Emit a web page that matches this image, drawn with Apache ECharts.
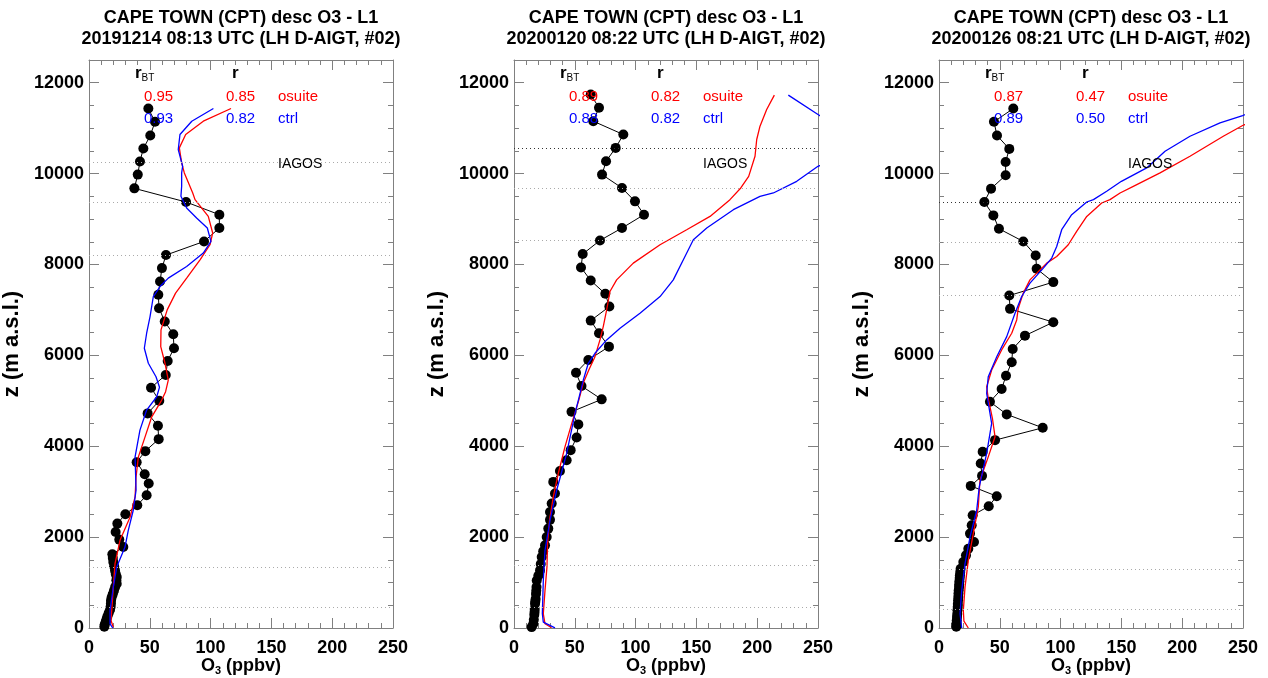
<!DOCTYPE html>
<html><head><meta charset="utf-8">
<script src="https://cdn.jsdelivr.net/npm/echarts@6/dist/echarts.min.js"></script>
<style>html,body{margin:0;padding:0;background:#fff}#c{width:1268px;height:678px}</style>
</head><body><div id="c"></div>
<script>
// ---------------- DATA ----------------
const titleLine1 = ['CAPE TOWN (CPT) desc O3 - L1','CAPE TOWN (CPT) desc O3 - L1','CAPE TOWN (CPT) desc O3 - L1'];
const titleLine2 = ['20191214 08:13 UTC (LH D-AIGT, #02)','20200120 08:22 UTC (LH D-AIGT, #02)','20200126 08:21 UTC (LH D-AIGT, #02)'];
const rbtOsuite = ['0.95','0.89','0.87'];
const rbtCtrl   = ['0.93','0.88','0.89'];
const rOsuite   = ['0.85','0.82','0.47'];
const rCtrl     = ['0.82','0.82','0.50'];

// dotted reference levels (m)
const p1_levels = [10257, 9375, 8207, 1327, 459];
const p2_levels = [10566, 9684, 8529, 1378, 459];
const p3_levels = [9375, 8485, 7316, 1290, 423];
const darkLevel = [null, 10566, 9375];

// [O3 ppbv, z m]
const p1_iagos = [[48.8,11433],[54.3,11140],[50.4,10838],[44.7,10551],[41.9,10268],[40.1,9978],[37.3,9675],[79.8,9375],[107.2,9096],[107.2,8802],[94.6,8507],[63.3,8207],[60.0,7920],[58.4,7625],[57.0,7332],[57.6,7038],[62.3,6744],[69.3,6465],[69.9,6156],[64.7,5876],[63.1,5568],[51.0,5288],[57.8,5001],[48.2,4723],[56.7,4450],[57.3,4156],[46.3,3892],[39.2,3649],[45.8,3385],[49.1,3180],[47.4,2922],[39.7,2701],[29.9,2503],[23.3,2297],[21.9,2113],[24.9,1945],[28.2,1782],[19.2,1621],[19.6,1540],[20.0,1451],[20.7,1360],[21.4,1268],[22.0,1190],[22.8,1120],[22.5,1050],[22.8,975],[21.5,900],[20.5,820],[19.5,740],[18.6,670],[18.1,606],[18.0,540],[17.8,470],[17.3,400],[16.2,330],[15.2,260],[14.5,200],[13.8,140],[13.0,80],[12.6,30]];
const p1_osuite = [[116.8,11433],[94.0,11153],[79.5,10860],[74.3,10566],[76.2,10235],[78.4,10015],[85.3,9574],[87.2,9427],[98.1,9058],[101.7,8692],[99.5,8434],[91.3,8103],[80.3,7700],[71.2,7369],[64.3,7001],[59.2,6560],[59.0,6192],[62.5,5826],[65.2,5457],[63.0,5200],[59.8,5016],[51.6,4648],[46.1,4207],[40.6,3766],[38.7,3325],[37.9,2884],[33.8,2443],[25.5,1929],[21.4,1416],[20.0,900],[18.7,386],[18.1,165],[20.0,18]];
const p1_ctrl = [[102.3,11433],[84.5,11153],[74.8,10860],[73.4,10529],[77.0,10161],[76.2,10015],[76.2,9720],[75.6,9500],[80.3,9243],[88.5,9023],[97.3,8802],[100.3,8507],[94.0,8251],[80.3,7956],[65.2,7700],[58.4,7515],[52.9,7295],[50.2,6853],[47.4,6487],[45.5,6156],[48.8,5826],[55.1,5530],[58.0,5300],[55.7,5089],[47.4,4796],[41.9,4355],[37.9,3766],[38.7,3032],[36.4,2591],[32.3,2150],[29.6,1782],[22.8,1341],[20.0,900],[17.3,386],[17.3,92],[19.5,0]];

const p2_iagos = [[63.1,11741],[69.9,11448],[65.2,11153],[89.9,10860],[83.6,10566],[75.7,10271],[72.4,9978],[88.8,9684],[99.5,9389],[106.9,9096],[88.8,8802],[70.7,8529],[56.5,8229],[55.1,7934],[63.1,7647],[75.1,7354],[78.4,7074],[63.1,6765],[69.9,6487],[78.1,6192],[61.1,5898],[51.0,5618],[55.5,5325],[72.1,5032],[47.3,4759],[52.9,4481],[51.5,4194],[46.6,3914],[43.3,3693],[37.8,3457],[32.3,3215],[33.7,2959],[31.0,2739],[29.6,2553],[29.6,2380],[28.2,2187],[26.9,2002],[25.5,1819],[24.0,1690],[22.8,1561],[22.0,1410],[21.4,1268],[20.0,1150],[18.7,1047],[18.5,900],[18.3,820],[18.1,750],[17.8,640],[17.5,580],[17.3,534],[17.0,420],[16.9,350],[16.7,290],[16.3,180],[15.9,92],[14.5,20]];
const p2_osuite = [[214.1,11727],[207.8,11411],[202.3,11043],[199.6,10750],[198.2,10382],[193.0,9940],[186.5,9684],[177.6,9427],[161.2,9058],[142.0,8765],[120.1,8434],[98.1,8030],[84.4,7662],[78.9,7405],[76.2,7001],[73.4,6633],[70.7,6340],[66.6,5971],[61.5,5678],[56.9,5385],[53.3,5016],[47.5,4502],[41.9,3987],[36.4,3400],[32.3,2884],[29.2,2370],[27.6,1857],[27.1,1341],[25.5,827],[24.1,313],[25.5,92],[30.9,4]];
const p2_ctrl = [[225.6,11727],[250.0,11301],[275.0,10900],[285.0,10600],[268.0,10350],[250.0,10161],[232.5,9830],[213.3,9574],[202.3,9500],[180.4,9206],[158.5,8802],[147.5,8544],[140.6,8176],[131.0,7662],[120.1,7294],[103.6,6928],[87.2,6597],[76.2,6340],[66.6,6046],[61.1,5826],[57.0,5457],[53.3,5054],[50.2,4723],[43.3,3841],[35.1,3032],[29.6,2370],[25.5,1709],[24.1,1047],[23.3,313],[24.1,128],[33.7,4]];

const p3_iagos = [[61.1,11433],[45.2,11140],[47.7,10838],[57.8,10544],[54.8,10257],[54.8,9962],[42.8,9669],[37.3,9375],[44.7,9080],[49.3,8787],[69.3,8507],[79.5,8198],[80.3,7905],[94.0,7612],[57.8,7316],[58.4,7023],[94.0,6730],[70.7,6434],[60.6,6141],[59.8,5848],[55.1,5552],[51.5,5259],[41.9,4979],[55.7,4701],[85.3,4406],[46.1,4134],[35.9,3877],[34.3,3621],[35.4,3348],[26.1,3127],[47.5,2900],[40.9,2679],[27.7,2481],[26.9,2260],[25.5,2077],[28.8,1892],[24.1,1746],[22.2,1599],[20.0,1451],[17.8,1305],[17.5,1230],[17.2,1160],[17.0,1100],[16.8,1030],[16.6,960],[16.5,900],[16.2,830],[16.0,760],[15.9,680],[15.7,610],[15.5,530],[15.4,460],[15.2,390],[15.0,310],[14.8,240],[14.6,170],[14.4,100],[14.2,30]];
const p3_osuite = [[262.0,11200],[249.7,11058],[233.8,10822],[206.4,10382],[181.8,10015],[159.8,9720],[148.9,9574],[140.6,9427],[133.8,9353],[121.5,9058],[113.2,8728],[106.3,8434],[96.8,8176],[88.6,8030],[74.8,7662],[69.3,7369],[65.2,7038],[63.9,6780],[59.8,6487],[51.5,6119],[43.3,5678],[39.2,5310],[40.5,5054],[44.0,4600],[46.1,4207],[40.5,3766],[33.7,3252],[32.3,2664],[28.2,2077],[24.1,1488],[21.4,900],[20.0,386],[20.5,150],[24.1,0]];
const p3_ctrl = [[262.0,11400],[249.7,11278],[231.1,11117],[206.4,10822],[185.9,10492],[170.8,10125],[150.0,9830],[137.9,9610],[127.0,9427],[121.5,9375],[109.1,9096],[100.9,8765],[96.8,8397],[92.7,8141],[85.8,7921],[74.8,7590],[68.0,7295],[62.5,6928],[55.7,6412],[47.5,5971],[40.5,5530],[39.2,5164],[43.3,4502],[39.2,3841],[33.1,3105],[31.0,2591],[25.5,2002],[21.4,1415],[18.7,827],[17.3,313],[18.7,0]];

// ---------------- CHART ----------------
const panels = [
  {iagos:p1_iagos, osuite:p1_osuite, ctrl:p1_ctrl, levels:p1_levels},
  {iagos:p2_iagos, osuite:p2_osuite, ctrl:p2_ctrl, levels:p2_levels},
  {iagos:p3_iagos, osuite:p3_osuite, ctrl:p3_ctrl, levels:p3_levels}
];
const FONT = 'Liberation Sans, Arial, Helvetica, sans-serif';
const AX = '#808080';
const gridLefts = [89, 514, 939];
const GW = 304, GT = 60, GH = 568;

const grid = [], xAxis = [], yAxis = [], series = [], graphic = [];
panels.forEach((p, i) => {
  grid.push({left: gridLefts[i], top: GT, width: GW, height: GH, containLabel: false, outerBoundsMode: 'none'});
  const xBase = {gridIndex: i, type: 'value', min: 0, max: 250, interval: 50,
    axisLine: {show: true, onZero: false, lineStyle: {color: AX, width: 1}},
    axisTick: {show: true, inside: true, length: 10, lineStyle: {color: AX}},
    minorTick: {show: true, splitNumber: 5, length: 5, lineStyle: {color: AX}},
    splitLine: {show: false}, minorSplitLine: {show: false}};
  xAxis.push(Object.assign({}, xBase, {position: 'bottom',
    axisLabel: {show: true, color: '#000', fontFamily: FONT, fontWeight: 'bold', fontSize: 18, margin: 11},
    name: '{a|O}{s|3}{a| (ppbv)}', nameLocation: 'middle', nameGap: 28, nameMoveOverlap: false,
    nameTextStyle: {rich: {
      a: {fontFamily: FONT, fontWeight: 'bold', fontSize: 18, color: '#000', lineHeight: 20},
      s: {fontFamily: FONT, fontWeight: 'bold', fontSize: 11, color: '#000', lineHeight: 11, verticalAlign: 'bottom'}}}
  }));
  xAxis.push(Object.assign({}, xBase, {position: 'top', axisLabel: {show: false}}));
  const yMain = {gridIndex: i, type: 'value', min: 0, max: 12500, interval: 2000,
    axisLine: {show: true, onZero: false, lineStyle: {color: AX, width: 1}},
    axisTick: {show: true, inside: true, length: 10, lineStyle: {color: AX}},
    splitLine: {show: false}};
  const yMinor = {gridIndex: i, type: 'value', min: 0, max: 12500, interval: 500,
    axisLine: {show: false, onZero: false}, axisLabel: {show: false},
    axisTick: {show: true, inside: true, length: 5, lineStyle: {color: AX}},
    splitLine: {show: false}};
  yAxis.push(Object.assign({}, yMain, {position: 'left',
    axisLabel: {show: true, color: '#000', fontFamily: FONT, fontWeight: 'bold', fontSize: 18, margin: 5, showMaxLabel: false,
      formatter: v => String(v)},
    name: 'z (m a.s.l.)', nameLocation: 'middle', nameGap: 66, nameRotate: 90, nameMoveOverlap: false,
    nameTextStyle: {fontFamily: FONT, fontWeight: 'bold', fontSize: 22, color: '#000'}}));
  yAxis.push(Object.assign({}, yMinor, {position: 'left'}));
  yAxis.push(Object.assign({}, yMain, {position: 'right', axisLabel: {show: false}}));
  yAxis.push(Object.assign({}, yMinor, {position: 'right'}));

  const xi = 2 * i, yi = 4 * i;
  series.push({type: 'line', xAxisIndex: xi, yAxisIndex: yi, data: p.iagos,
    symbol: 'circle', symbolSize: 10, showSymbol: true,
    lineStyle: {color: '#000', width: 1}, itemStyle: {color: '#000'}, z: 2,
    markLine: {silent: true, symbol: ['none', 'none'], label: {show: false},
      data: p.levels.map(v => ({yAxis: v, lineStyle: {type: [1, 3], color: v === darkLevel[i] ? '#333' : '#aaa', width: 1}}))}});
  series.push({type: 'line', xAxisIndex: xi, yAxisIndex: yi, data: p.osuite,
    symbol: 'none', lineStyle: {color: '#ff0000', width: 1.3}, z: 3});
  series.push({type: 'line', xAxisIndex: xi, yAxisIndex: yi, data: p.ctrl,
    symbol: 'none', lineStyle: {color: '#0000ff', width: 1.3}, z: 4});

  const L = gridLefts[i];
  const txt = (x, y, text, color, size, weight, align) => ({type: 'text', x: x, y: y, z: 10,
    style: {text: text, fill: color, font: (weight || 'normal') + ' ' + size + 'px ' + FONT, align: align || 'left', verticalAlign: 'middle'}});
  graphic.push(txt(L + 152, 18, titleLine1[i], '#000', 18, 'bold', 'center'));
  graphic.push(txt(L + 152, 39, titleLine2[i], '#000', 18, 'bold', 'center'));
  graphic.push({type: 'text', x: L + 46, y: 73, z: 10, style: {text: '{r|r}{b|BT}', align: 'left', verticalAlign: 'middle',
    rich: {r: {font: 'bold 17px ' + FONT, fill: '#000', lineHeight: 20},
           b: {font: 'normal 10px ' + FONT, fill: '#000', lineHeight: 10, verticalAlign: 'bottom'}}}});
  graphic.push(txt(L + 143, 73, 'r', '#000', 17, 'bold'));
  graphic.push(txt(L + 55, 97, rbtOsuite[i], '#ff0000', 15));
  graphic.push(txt(L + 137, 97, rOsuite[i], '#ff0000', 15));
  graphic.push(txt(L + 189, 97, 'osuite', '#ff0000', 15));
  graphic.push(txt(L + 55, 119, rbtCtrl[i], '#0000ff', 15));
  graphic.push(txt(L + 137, 119, rCtrl[i], '#0000ff', 15));
  graphic.push(txt(L + 189, 119, 'ctrl', '#0000ff', 15));
  graphic.push(txt(L + 189, 164, 'IAGOS', '#000', 14));
});

const chart = echarts.init(document.getElementById('c'), null, {renderer: 'canvas'});
chart.setOption({animation: false, backgroundColor: '#fff', grid, xAxis, yAxis, series, graphic});
</script></body></html>
